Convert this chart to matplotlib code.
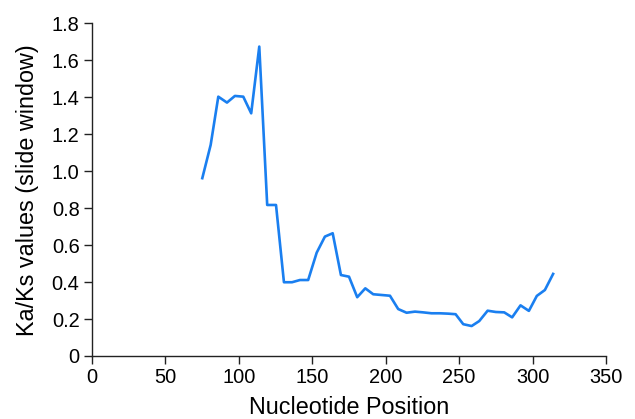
import matplotlib
matplotlib.use("Agg")
from matplotlib import pyplot as plt

# sliding-window Ka/Ks values
positions = [75.1, 80.8, 86.0, 91.9, 97.3, 103.0, 108.4, 113.9, 119.3, 125.3,
             130.7, 136.2, 141.6, 147.2, 153.0, 158.6, 163.9, 169.5, 175.0, 180.6,
             186.1, 191.5, 197.2, 202.9, 208.5, 214.2, 219.9, 225.5, 231.2, 236.9,
             242.6, 247.6, 252.8, 258.5, 263.7, 269.4, 275.0, 280.7, 286.1, 291.8,
             297.5, 302.9, 308.4, 314.0]
kaks = [0.962, 1.142, 1.403, 1.371, 1.407, 1.403, 1.313, 1.674, 0.817, 0.817,
        0.399, 0.399, 0.411, 0.411, 0.559, 0.646, 0.664, 0.438, 0.429, 0.318,
        0.366, 0.334, 0.330, 0.326, 0.254, 0.234, 0.240, 0.236, 0.231, 0.231,
        0.229, 0.226, 0.172, 0.162, 0.189, 0.245, 0.238, 0.236, 0.209, 0.274,
        0.244, 0.325, 0.357, 0.444]

x_ticks = [0, 50, 100, 150, 200, 250, 300, 350]
y_ticks = [0, 0.2, 0.4, 0.6, 0.8, 1.0, 1.2, 1.4, 1.6, 1.8]
y_labels = ["0", "0.2", "0.4", "0.6", "0.8", "1.0", "1.2", "1.4", "1.6", "1.8"]

plt.rcParams["font.family"] = ["Liberation Sans", "DejaVu Sans"]

fig = plt.figure(figsize=(6.35, 4.19), dpi=100)
ax = fig.add_axes([0.1449, 0.1504, 0.8094, 0.794])

ax.plot(positions, kaks, color="#1a7ff0", linewidth=1.9)

ax.set_xlim(0, 350)
ax.set_ylim(0, 1.8)
ax.set_xticks(x_ticks)
ax.set_yticks(y_ticks)
ax.set_yticklabels(y_labels)

ax.spines["top"].set_visible(False)
ax.spines["right"].set_visible(False)
for s in ("left", "bottom"):
    ax.spines[s].set_linewidth(1.0)
    ax.spines[s].set_color("#222222")

ax.tick_params(direction="out", length=6, width=1.0, color="#222222",
               labelsize=14.4, pad=3)

ax.set_xlabel("Nucleotide Position", fontsize=16.8, labelpad=6)
ax.set_ylabel("Ka/Ks values (slide window)", fontsize=16.8, labelpad=9)

fig.savefig("out.png", dpi=100)
